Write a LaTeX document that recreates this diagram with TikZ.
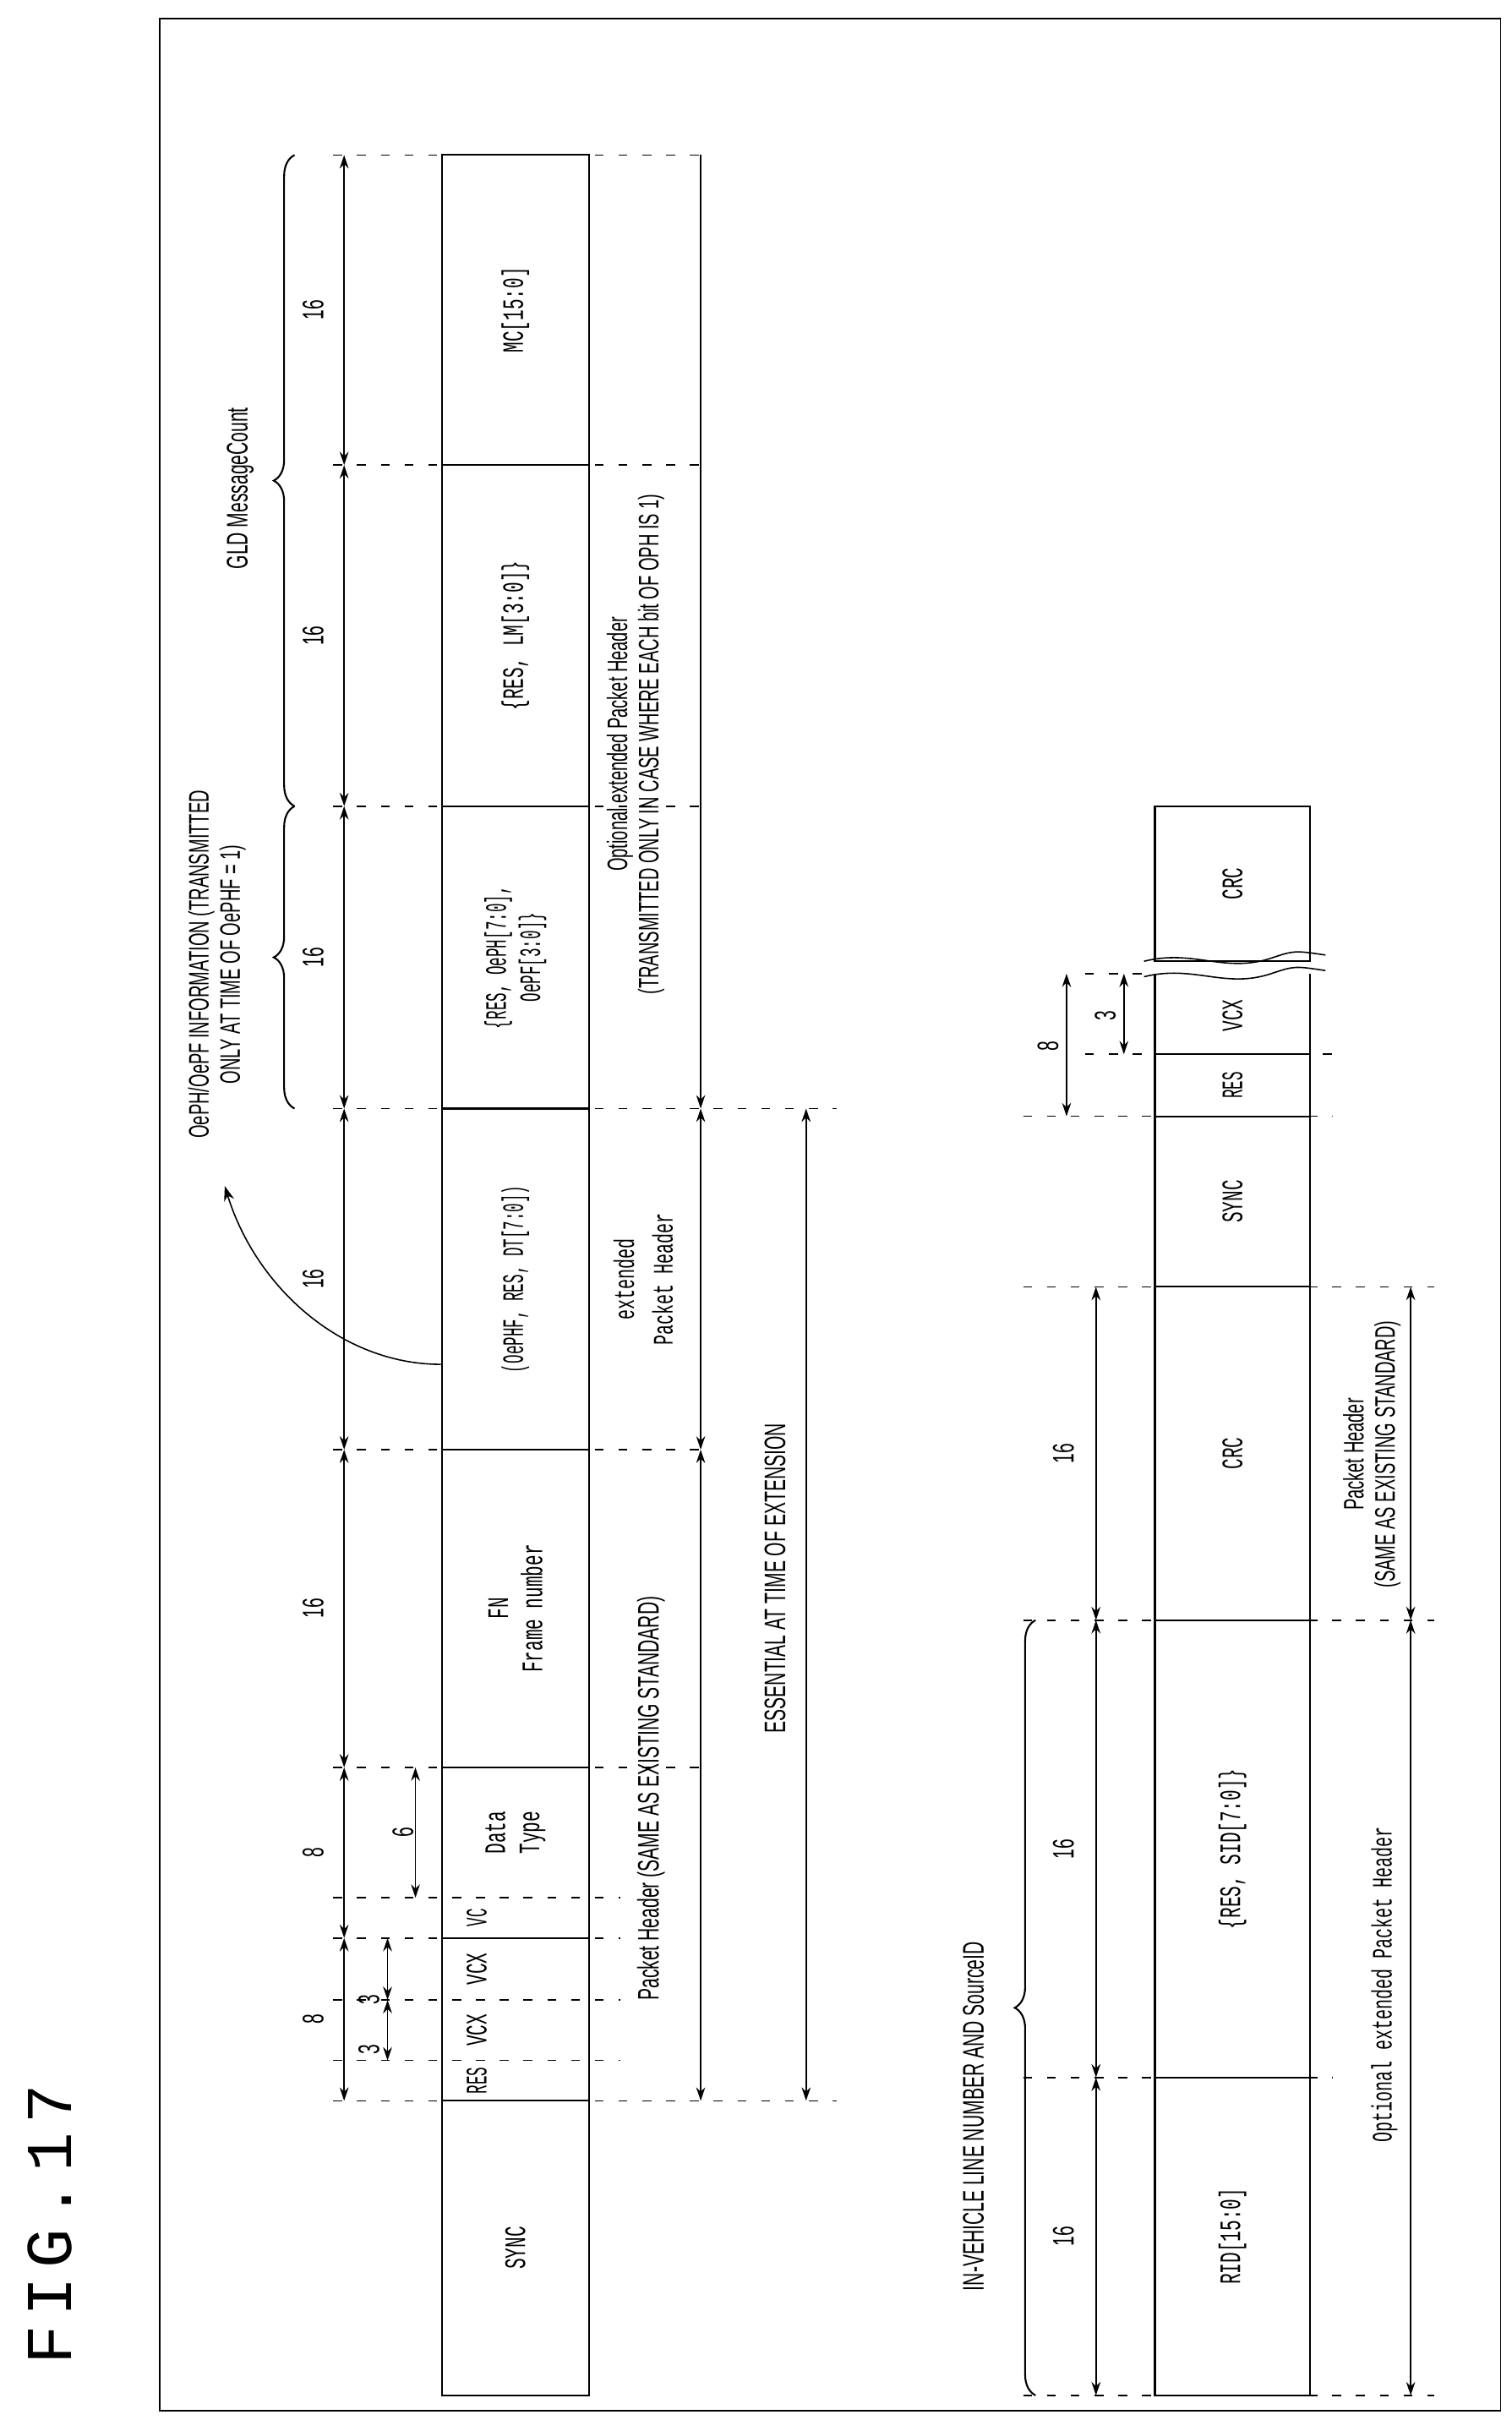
\documentclass[tikz,border=0pt]{standalone}
\usepackage{fontspec}
\setmainfont{Liberation Sans}
\setmonofont{Liberation Mono}
\usetikzlibrary{fit,arrows.meta,decorations.pathreplacing,decorations.pathmorphing}
\newcommand{\cn}[1]{\scalebox{0.6}[1]{#1}}
\newcommand{\cnn}[1]{\scalebox{0.5}[1]{#1}}
\newcommand{\mycell}[6][draw]{\node[#1,inner sep=0pt,fit={(#3)(#4)}] (#2) {};
  \node[ctext] (#2t) at (#2.center) {#5}; }
\begin{document}
\begin{tikzpicture}[x=0.03667cm,y=-0.03667cm,line width=1.2pt,
  ctext/.style={inner sep=0pt,font=\fontsize{20}{23}\selectfont\ttfamily,align=center,rotate=90},
  lbl/.style={inner sep=0pt,font=\fontsize{20}{23}\selectfont,align=center,rotate=90},
  dsh/.style={line width=0.9pt,dash pattern=on 6pt off 10pt},
  dim/.style={{Stealth[length=9pt,width=6pt]}-{Stealth[length=9pt,width=6pt]}},
  brc/.style={decorate,decoration={brace,amplitude=14pt}}]
\useasboundingbox (0,0) rectangle (975,1568);
\draw[line width=1pt] (103,12) rectangle (968,1555);
\node[rotate=90,font=\fontsize{44}{50}\selectfont\ttfamily] (title) at (32,1435) {F\hspace{6pt}I\hspace{6pt}G\hspace{6pt}.\hspace{6pt}1\hspace{6pt}7};

% ---------- diagram 1 ----------
\foreach \y in {1355,715} \draw[dsh] (215,\y) -- (540,\y);
\foreach \y in {1140,935,520,300,100} \draw[dsh] (215,\y) -- (460,\y);
\foreach \y in {1329,1290,1250,1224} \draw[dsh] (215,\y) -- (400,\y);
\mycell{sync1}{285,1355}{380,1545}{\cn{SYNC}}{}
\node[draw,inner sep=0pt,fit={(285,1140)(380,1355)}] (hdr1) {};
\mycell[draw=none]{res1}{285,1329}{330,1355}{\cnn{RES}}{}
\mycell[draw=none]{vcxa}{285,1290}{330,1329}{\cn{VCX}}{}
\mycell[draw=none]{vcxb}{285,1250}{330,1290}{\cn{VCX}}{}
\mycell[draw=none]{vc1}{285,1224}{330,1250}{\cnn{VC}}{}
\mycell[draw=none]{dt}{285,1140}{380,1224}{\cn{Data}\\\cn{Type}}{}
\draw (285,1250) -- (380,1250);
\mycell{fn}{285,935}{380,1140}{\cn{FN}\\\cn{Frame number}}{}
\mycell{ophf}{285,715}{380,935}{\cnn{(OePHF, RES, DT[7:0])}}{}
\mycell{oeph}{285,520}{380,715}{\cnn{\{RES, OePH[7:0],}\\\cnn{OePF[3:0]\}}}{}
\mycell{lm}{285,300}{380,520}{\cn{\{RES, LM[3:0]\}}}{}
\mycell{mc}{285,100}{380,300}{\cn{MC[15:0]}}{}

\foreach \a/\b/\t in {1355/1250/8,1250/1140/8,1140/935/16,935/715/16,715/520/16,520/300/16,300/100/16}{
  \draw[dim] (222,\a) -- (222,\b);
  \node[lbl] at (202,{(\a+\b)/2}) {\cn{\t}};}
\draw[dim,line width=0.9pt] (250,1329) -- (250,1290);
\draw[dim,line width=0.9pt] (250,1290) -- (250,1250);
\node[lbl] at (238,1322) {\cn{3}};
\node[lbl] at (238,1290) {\cn{3}};
\draw[dim,line width=0.9pt] (268,1224) -- (268,1140);
\node[lbl] at (260,1182) {\cn{6}};

\node[lbl] (ph) at (420,1160) {\cn{Packet Header (SAME AS EXISTING STANDARD)}};
\draw[dim] (452,1355) -- (452,935);
\draw[dim] (452,935) -- (452,715);
\node[lbl,font=\fontsize{19}{26}\selectfont\ttfamily] (eph) at (415,825) {\cn{extended}\\\cn{Packet Header}};
\draw[{Stealth[length=9pt,width=6pt]}-] (452,715) -- (452,100);
\node[lbl,font=\fontsize{19}{21}\selectfont] (oph) at (410,480) {\cn{Optional extended Packet Header}\\\cn{(TRANSMITTED ONLY IN CASE WHERE EACH bit OF OPH IS 1)}};
\node[lbl] (ess) at (500,1018) {\cn{ESSENTIAL AT TIME OF EXTENSION}};
\draw[dim] (520,1355) -- (520,715);

\draw[brc] (190,715) -- (190,520) node[midway] (b1) {};
\draw[brc] (190,520) -- (190,100) node[midway] (b2) {};
\node[lbl,font=\fontsize{19}{21}\selectfont] (oinfo) at (140,622) {\cn{OePH/OePF INFORMATION (TRANSMITTED}\\\cn{ONLY AT TIME OF OePHF = 1)}};
\node[lbl] (gld) at (155,315) {\cn{GLD MessageCount}};
\draw[-{Stealth[length=10pt,width=7pt]},line width=0.9pt] (ophf.west |- 0,880) .. controls (220,880) and (165,830) .. (145,765);

% ---------- diagram 2 ----------
\foreach \y in {1545,1045,830} \draw[dsh] (660,\y) -- (925,\y);
\foreach \y in {1340,720} \draw[dsh] (660,\y) -- (860,\y);
\draw[dsh] (700,680) -- (860,680);
\draw[dsh] (700,628) -- (740,628);
\mycell{rid}{745,1340}{845,1545}{\cn{RID[15:0]}}{}
\mycell{sid}{745,1045}{845,1340}{\cn{\{RES, SID[7:0]\}}}{}
\mycell{crc1}{745,830}{845,1045}{\cn{CRC}}{}
\mycell{sync2}{745,720}{845,830}{\cn{SYNC}}{}
\mycell{res2}{745,680}{845,720}{\cnn{RES}}{}
\mycell[draw=none]{vcx2}{745,630}{845,680}{\cn{VCX}}{}
\draw (745,680) -- (745,628);
\draw (845,680) -- (845,628);
\draw[line width=0.9pt] (738,630) .. controls (770,622) and (790,638) .. (820,628) .. controls (835,623) .. (855,626);
\draw[line width=0.9pt] (738,620) .. controls (770,612) and (790,628) .. (820,618) .. controls (835,613) .. (855,616);
\mycell{crc2}{745,520}{845,620}{\cn{CRC}}{}

\foreach \a/\b in {1545/1340,1340/1045,1045/830}{
  \draw[dim] (707,\a) -- (707,\b);
  \node[lbl] at (686,{(\a+\b)/2}) {\cn{16}};}
\draw[dim] (688,720) -- (688,628);
\node[lbl] at (676,675) {\cn{8}};
\draw[dim,line width=0.9pt] (725,680) -- (725,628);
\node[lbl] at (713,655) {\cn{3}};
\draw[brc] (668,1545) -- (668,1045) node[midway] (b3) {};
\node[lbl] (ivl) at (628,1365) {\cn{IN-VEHICLE LINE NUMBER AND SourceID}};
\node[lbl,font=\fontsize{19}{21}\selectfont] (ph2) at (885,938) {\cn{Packet Header}\\\cn{(SAME AS EXISTING STANDARD)}};
\node[lbl,font=\fontsize{19}{21}\selectfont\ttfamily] (oeh2) at (893,1280) {\cn{Optional extended Packet Header}};
\draw[dim] (910,1545) -- (910,1045);
\draw[dim] (910,1045) -- (910,830);
\end{tikzpicture}
\end{document}
